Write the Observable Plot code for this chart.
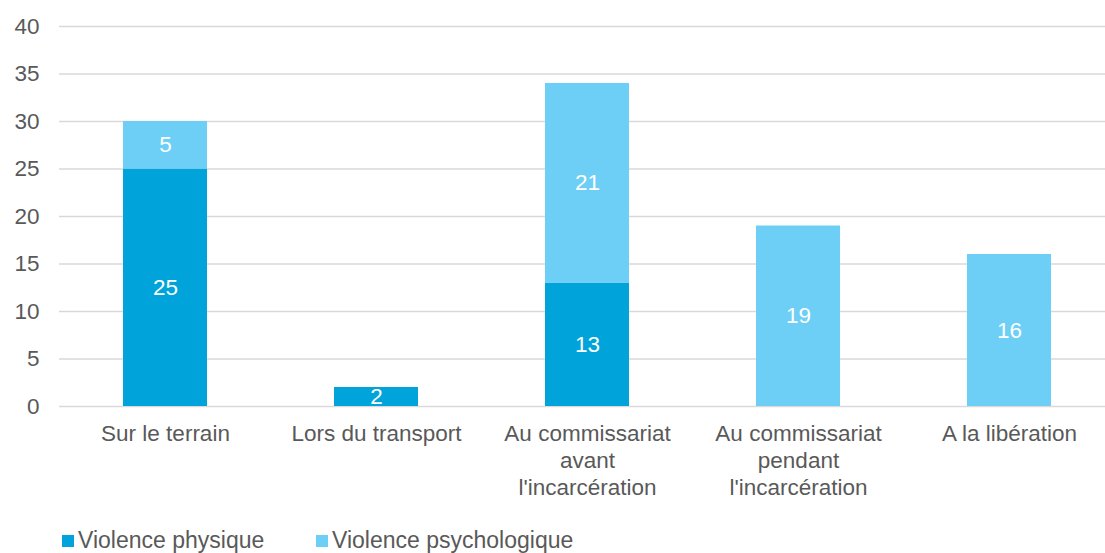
<!DOCTYPE html>
<html>
<head>
<meta charset="utf-8">
<script src="https://cdn.jsdelivr.net/npm/d3@7"></script>
<script src="https://cdn.jsdelivr.net/npm/@observablehq/plot@0.6"></script>
<style>
  html, body { margin: 0; padding: 0; background: #fff; }
  body { width: 1105px; height: 553px; overflow: hidden; font-family: "Liberation Sans", Arial, sans-serif; }
  #legend { position: relative; height: 38px; font-size: 23px; color: #595959; }
  .item { position: absolute; top: 12px; display: flex; align-items: center; white-space: nowrap; }
  .sw { width: 12px; height: 12px; margin-right: 4px; }
</style>
</head>
<body>
<div id="chart"></div>
<div id="legend"></div>
<script>
const categories = [
  "Sur le terrain",
  "Lors du transport",
  "Au commissariat\navant\nl'incarcération",
  "Au commissariat\npendant\nl'incarcération",
  "A la libération"
];
const seriesNames = ["Violence physique", "Violence psychologique"];
const physique = [25, 2, 13, 0, 0];
const psychologique = [5, 0, 21, 19, 16];
const colors = ["#00A4DA", "#6DCFF6"];
const yTicks = [0, 5, 10, 15, 20, 25, 30, 35, 40];

const data = [];
categories.forEach((c, i) => {
  data.push({cat: c, series: seriesNames[0], value: physique[i]});
  data.push({cat: c, series: seriesNames[1], value: psychologique[i]});
});

const font = "Liberation Sans, Arial, sans-serif";

const chart = Plot.plot({
  width: 1105,
  height: 515,
  marginLeft: 59,
  marginRight: 0,
  marginTop: 26,
  marginBottom: 109,
  style: {fontFamily: font, fontSize: "22px", color: "#595959", background: "#fff"},
  x: {domain: categories, range: [58.5, 1116], paddingInner: 0.6, paddingOuter: 0.3},
  y: {domain: [0, 40]},
  color: {domain: seriesNames, range: colors},
  marks: [
    Plot.ruleY(yTicks, {stroke: "#d9d9d9", strokeWidth: 1.5}),
    Plot.barY(data, {x: "cat", y: "value", fill: "series", z: "series"}),
    Plot.text(data.filter(d => d.value > 0), Plot.stackY({
      x: "cat", y: "value", z: "series", text: d => String(d.value),
      fill: "white", fontSize: 22.5
    })),
    Plot.axisY({ticks: yTicks, tickSize: 0, tickPadding: 20, fontSize: 22.5, fill: "#595959", label: null}),
    Plot.axisX({tickSize: 0, tickPadding: 15, fontSize: 22.5, fill: "#595959", lineHeight: 1.2, label: null})
  ]
});
document.getElementById("chart").appendChild(chart);

const legend = document.getElementById("legend");
const lefts = [62, 316];
seriesNames.forEach((s, i) => {
  const it = document.createElement("div");
  it.className = "item";
  it.style.left = lefts[i] + "px";
  const sw = document.createElement("span");
  sw.className = "sw";
  sw.style.background = colors[i];
  const t = document.createElement("span");
  t.textContent = s;
  it.appendChild(sw);
  it.appendChild(t);
  legend.appendChild(it);
});
</script>
</body>
</html>
